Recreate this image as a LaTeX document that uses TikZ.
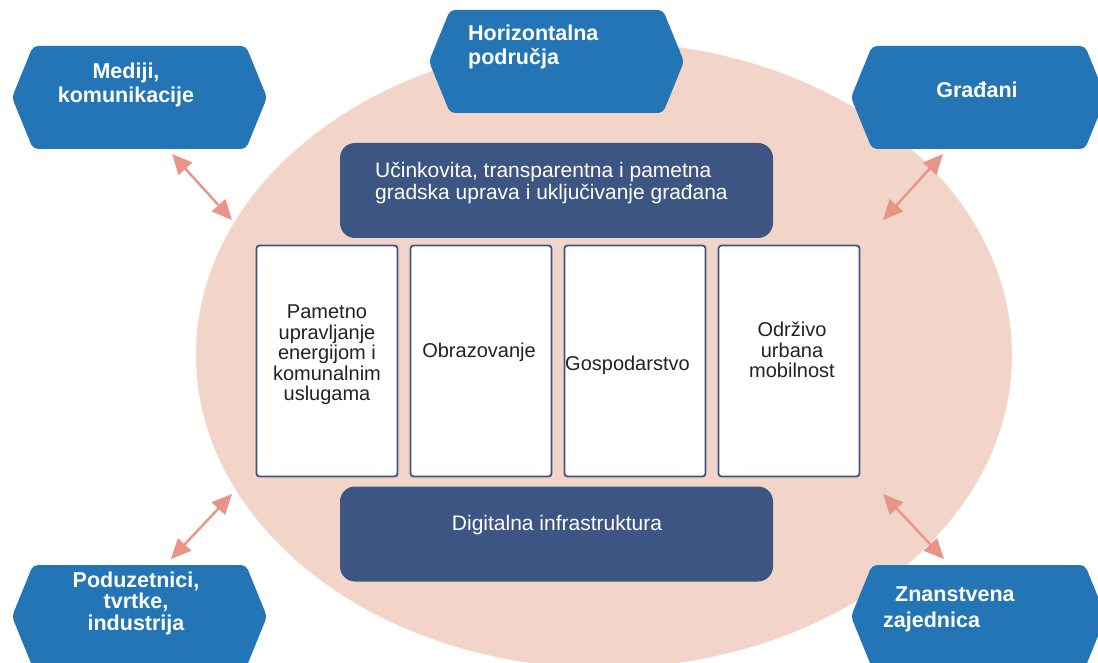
\documentclass[tikz,border=0pt]{standalone}
\usepackage{fontspec}
\setmainfont{Liberation Sans}
\usetikzlibrary{arrows.meta}

\definecolor{ringfill}{RGB}{243,212,200}
\definecolor{hexblue}{RGB}{36,117,181}
\definecolor{slate}{RGB}{60,85,131}
\definecolor{linkred}{RGB}{232,148,134}
\definecolor{boxtext}{RGB}{34,34,34}

\tikzset{
  hexfill/.style={fill=hexblue, rounded corners=5pt},
  hexlabel/.style={text=white, font=\bfseries\fontsize{21.5}{24}\selectfont, inner sep=0pt},
  bandbox/.style={fill=slate, rounded corners=15pt, minimum width=433pt, minimum height=95pt, inner sep=0pt},
  bandlabel/.style={text=white, font=\fontsize{21}{22}\selectfont, inner sep=0pt},
  pillar/.style={draw=slate, line width=1.8pt, fill=white, rounded corners=3pt,
                 minimum width=141pt, minimum height=231pt, inner sep=0pt},
  pillarlabel/.style={text=boxtext, font=\fontsize{20}{20.5}\selectfont, inner sep=0pt, align=center},
  link/.style={draw=linkred, line width=2.4pt,
               {Triangle[length=20pt,width=18pt]}-{Triangle[length=20pt,width=18pt]}}
}

% hexagon from left x, top y, right x, bottom y (slanted sides 21 units wide)
\newcommand\hexagonshape[4]{%
  \pgfmathsetmacro\hxa{#1+21}\pgfmathsetmacro\hxb{#3-21}\pgfmathsetmacro\hym{(#2+#4)/2}%
  \fill[hexfill] (\hxa,#2) -- (\hxb,#2) -- (#3,\hym) -- (\hxb,#4) -- (\hxa,#4) -- (#1,\hym) -- cycle;}

\begin{document}
\begin{tikzpicture}[x=1pt,y=-1pt]
  \useasboundingbox (0,0) rectangle (1098,663);
  \clip (0,0) rectangle (1098,663);

  % central ellipse
  \fill[ringfill] (604,355) ellipse [x radius=408, y radius=313];

  % stakeholder hexagons
  \hexagonshape{12}{46}{267}{149}
  \hexagonshape{429}{10}{684}{113}
  \hexagonshape{851}{46}{1106}{149}
  \hexagonshape{12}{565}{267}{668}
  \hexagonshape{851}{565}{1106}{668}

  \node[hexlabel, align=center] (mediji) at (126,85) {Mediji,\\komunikacije};
  \node[hexlabel, align=left, anchor=west] (horiz) at (468,47) {Horizontalna\\područja};
  \node[hexlabel] (gradjani) at (977,90) {Građani};
  \node[hexlabel, align=center, font=\bfseries\fontsize{21.5}{21.5}\selectfont] (poduz) at (136,603) {Poduzetnici,\\tvrtke,\\industrija};
  \node[hexlabel, align=left, anchor=west, font=\bfseries\fontsize{21.5}{26}\selectfont] (znan) at (883,609) {\hspace*{12pt}Znanstvena\\zajednica};

  % governance and infrastructure bands
  \node[bandbox] (gov) at (556.5,190.5) {};
  \node[bandlabel, align=left, anchor=west] (govtext) at (375,183) {Učinkovita, transparentna i pametna\\gradska uprava i uključivanje građana};
  \node[bandbox] (infra) at (556.5,534) {};
  \node[bandlabel] (infratext) at (557,525) {Digitalna infrastruktura};

  % four pillars
  \node[pillar] (p1) at (327,361) {};
  \node[pillar] (p2) at (481,361) {};
  \node[pillar] (p3) at (635,361) {};
  \node[pillar] (p4) at (789,361) {};
  \node[pillarlabel] (p1text) at (327,355) {Pametno\\upravljanje\\energijom i\\komunalnim\\uslugama};
  \node[pillarlabel] (p2text) at (479,352) {Obrazovanje};
  \node[pillarlabel, anchor=west] (p3text) at (565,365) {Gospodarstvo};
  \node[pillarlabel] (p4text) at (792,350) {Održivo\\urbana\\mobilnost};

  % two-way links between the ellipse and the hexagons
  \coordinate (a1) at (172,154); \coordinate (b1) at (232,220);
  \coordinate (a2) at (943,154); \coordinate (b2) at (883,220);
  \coordinate (a3) at (232,494); \coordinate (b3) at (171,559);
  \coordinate (a4) at (883,494); \coordinate (b4) at (944,559);
  \draw[link] (a1) -- (b1);
  \draw[link] (a2) -- (b2);
  \draw[link] (a3) -- (b3);
  \draw[link] (a4) -- (b4);
\end{tikzpicture}
\end{document}
